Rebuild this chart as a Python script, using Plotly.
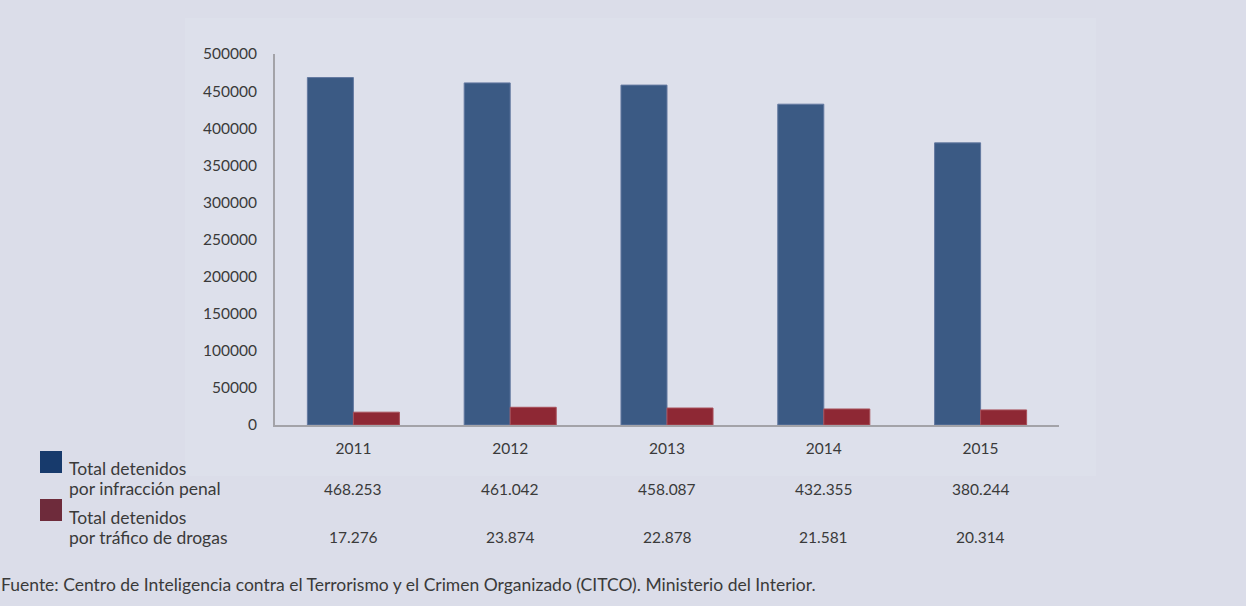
import plotly.graph_objects as go

# Detenidos por año
years = ["2011", "2012", "2013", "2014", "2015"]
penal = [468253, 461042, 458087, 432355, 380244]
drogas = [17276, 23874, 22878, 21581, 20314]
penal_labels = ["468.253", "461.042", "458.087", "432.355", "380.244"]
drogas_labels = ["17.276", "23.874", "22.878", "21.581", "20.314"]
y_ticks = [0, 50000, 100000, 150000, 200000, 250000, 300000, 350000, 400000, 450000, 500000]
series_names = [("Total detenidos", "por infracción penal"),
                ("Total detenidos", "por tráfico de drogas")]
source_text = "Fuente: Centro de Inteligencia contra el Terrorismo y el Crimen Organizado (CITCO). Ministerio del Interior."

W, H = 1246, 606
FONT = "Lato, 'Open Sans', sans-serif"
TXT = "#3a3a3a"
BG = "#dbdde9"
NUM_SIZE = 15.5
TEXT_SIZE = 17.5

def px(x):
    return x / W

def py(y):
    return 1 - y / H

fig = go.Figure()
fig.add_trace(go.Bar(x=years, y=penal, name="penal",
                     marker=dict(color="#3b5a84", line=dict(color="#6379a0", width=1))))
fig.add_trace(go.Bar(x=years, y=drogas, name="drogas",
                     marker=dict(color="#8e2834", line=dict(color="#a8505a", width=1))))

annotations = []
# Table rows under the axis (category index positions on the x axis)
for i, (a, b) in enumerate(zip(penal_labels, drogas_labels)):
    annotations.append(dict(x=i, y=py(489), xref="x", yref="paper", text=a,
                            showarrow=False, xanchor="center", yanchor="middle",
                            font=dict(family=FONT, size=NUM_SIZE, color=TXT)))
    annotations.append(dict(x=i, y=py(537), xref="x", yref="paper", text=b,
                            showarrow=False, xanchor="center", yanchor="middle",
                            font=dict(family=FONT, size=NUM_SIZE, color=TXT)))

# Legend text beside the swatches, one annotation per line
for (line1, line2), y1 in zip(series_names, [468, 517]):
    for text, yc in ((line1, y1), (line2, y1 + 20)):
        annotations.append(dict(x=px(67), y=py(yc), xref="paper", yref="paper", text=text,
                                showarrow=False, xanchor="left", yanchor="middle",
                                font=dict(family=FONT, size=TEXT_SIZE, color=TXT)))

annotations.append(dict(x=px(-1), y=py(584), xref="paper", yref="paper", text=source_text,
                        showarrow=False, xanchor="left", yanchor="middle",
                        font=dict(family=FONT, size=TEXT_SIZE, color=TXT)))

shapes = [
    # slightly lighter panel behind the chart
    dict(type="rect", xref="paper", yref="paper", x0=px(185), x1=px(1096), y0=py(476), y1=py(18),
         fillcolor="#dde0eb", line=dict(width=0), layer="below"),
    # legend swatches
    dict(type="rect", xref="paper", yref="paper", x0=px(40), x1=px(62), y0=py(473), y1=py(451),
         fillcolor="#173a6c", line=dict(width=0)),
    dict(type="rect", xref="paper", yref="paper", x0=px(40), x1=px(62), y0=py(521), y1=py(499),
         fillcolor="#6e2b3b", line=dict(width=0)),
]

fig.update_layout(
    width=W, height=H,
    margin=dict(l=0, r=0, t=0, b=0, pad=0),
    paper_bgcolor=BG, plot_bgcolor="rgba(0,0,0,0)",
    barmode="group", bargap=0.413, bargroupgap=0,
    showlegend=False,
    annotations=annotations,
    shapes=shapes,
    font=dict(family=FONT, size=NUM_SIZE, color=TXT),
    xaxis=dict(type="category", range=[-0.5, len(years) - 0.5], domain=[px(275), px(1059)],
               showline=True, linecolor="#a3a3a8", linewidth=2, automargin=False,
               ticks="", showgrid=False, zeroline=False, ticklabelstandoff=8,
               tickfont=dict(family=FONT, size=NUM_SIZE, color=TXT)),
    yaxis=dict(domain=[py(425), py(54)], range=[0, 500000], tickvals=y_ticks,
               ticktext=[str(v) for v in y_ticks], showline=True, linecolor="#a3a3a8",
               linewidth=2, ticks="", showgrid=False, zeroline=False, ticklabelstandoff=13,
               automargin=False, tickfont=dict(family=FONT, size=NUM_SIZE, color=TXT)),
)

fig.write_html("out.html")
